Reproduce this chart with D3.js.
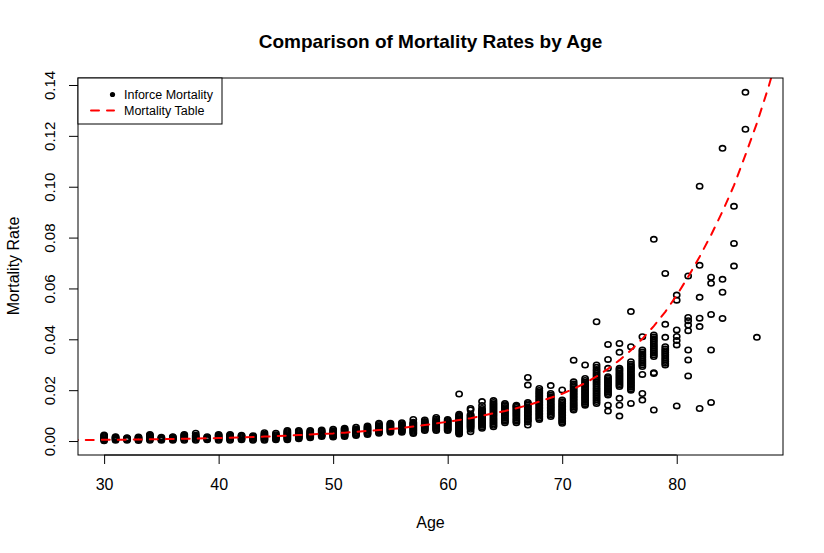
<!DOCTYPE html>
<html>
<head>
<meta charset="utf-8">
<script src="https://cdn.jsdelivr.net/npm/d3@7"></script>
<style>
  html, body { margin: 0; padding: 0; background: #fff; }
  svg { display: block; font-family: "Liberation Sans", Arial, sans-serif; }
</style>
</head>
<body>
<svg id="chart" width="824" height="553"></svg>
<script>
// ---------- data ----------
const chartTitle = "Comparison of Mortality Rates by Age";
const xLabel = "Age";
const yLabel = "Mortality Rate";
const legendLabels = ["Inforce Mortality", "Mortality Table"];

const xTicks = [30, 40, 50, 60, 70, 80];
const yTicks = [0.00, 0.02, 0.04, 0.06, 0.08, 0.10, 0.12, 0.14];

// inforce (observed) mortality: one list of rates per age
const inforceAges = [30,31,32,33,34,35,36,37,38,39,40,41,42,43,44,45,46,47,48,49,50,51,52,53,54,55,56,57,58,59,60,61,62,63,64,65,66,67,68,69,70,71,72,73,74,75,76,77,78,79,80,81,82,83,84,85,86,87];
const inforceRates = [
  [0.0001,0.0005,0.0009,0.0013,0.0017,0.0021,0.0024],
  [0.0003,0.0006,0.0009,0.0012,0.0015,0.0017],
  [0.0003,0.0006,0.0009,0.0011,0.0013],
  [0.0002,0.0005,0.0008,0.0011,0.0014,0.0016],
  [0.0003,0.0007,0.0011,0.0015,0.0019,0.0023,0.0026],
  [0.0003,0.0006,0.0009,0.0012,0.0015],
  [0.0003,0.0006,0.0009,0.0012,0.0015,0.0017],
  [0.0003,0.0007,0.0011,0.0015,0.0019,0.0023,0.0026],
  [0.0003,0.0007,0.0011,0.0015,0.0019,0.0023,0.0031],
  [0.0005,0.0008,0.0011,0.0014,0.0017],
  [0.0003,0.0007,0.0011,0.0015,0.0019,0.0023,0.0026],
  [0.0003,0.0007,0.0011,0.0015,0.0019,0.0023,0.0026],
  [0.0005,0.0009,0.0013,0.0017,0.0020,0.0023],
  [0.0003,0.0007,0.0011,0.0015,0.0018,0.0021],
  [0.0003,0.0007,0.0011,0.0015,0.0019,0.0023,0.0027,0.0033],
  [0.0005,0.0009,0.0013,0.0017,0.0021,0.0025,0.0031],
  [0.0005,0.0009,0.0013,0.0017,0.0021,0.0025,0.0029,0.0033,0.0037,0.0041],
  [0.0009,0.0013,0.0017,0.0021,0.0025,0.0029,0.0033,0.0037,0.0041],
  [0.0013,0.0017,0.0021,0.0025,0.0029,0.0033,0.0037,0.0041],
  [0.0018,0.0022,0.0026,0.0030,0.0034,0.0038,0.0043],
  [0.0016,0.0020,0.0024,0.0028,0.0032,0.0036,0.0040,0.0046],
  [0.0018,0.0022,0.0026,0.0030,0.0034,0.0038,0.0042,0.0046,0.0050],
  [0.0022,0.0026,0.0030,0.0034,0.0038,0.0042,0.0046,0.0054],
  [0.0026,0.0030,0.0034,0.0038,0.0042,0.0046,0.0050,0.0054,0.0059],
  [0.0031,0.0035,0.0039,0.0043,0.0047,0.0051,0.0055,0.0060,0.0065,0.0070],
  [0.0035,0.0039,0.0043,0.0047,0.0051,0.0055,0.0059,0.0063,0.0067,0.0070],
  [0.0035,0.0039,0.0043,0.0047,0.0051,0.0055,0.0059,0.0063,0.0068,0.0072],
  [0.0030,0.0034,0.0038,0.0042,0.0046,0.0050,0.0054,0.0058,0.0062,0.0066,0.0070,0.0074,0.0085],
  [0.0041,0.0045,0.0049,0.0053,0.0057,0.0061,0.0065,0.0069,0.0073,0.0077,0.0083],
  [0.0041,0.0045,0.0049,0.0053,0.0057,0.0061,0.0065,0.0069,0.0073,0.0077,0.0081,0.0086,0.0093],
  [0.0041,0.0045,0.0049,0.0053,0.0057,0.0061,0.0065,0.0069,0.0073,0.0077,0.0081,0.0085],
  [0.0028,0.0032,0.0036,0.0040,0.0044,0.0048,0.0052,0.0056,0.0060,0.0064,0.0068,0.0072,0.0076,0.0080,0.0084,0.0088,0.0092,0.0096,0.0100,0.0105,0.0185],
  [0.0037,0.0046,0.0052,0.0056,0.0060,0.0064,0.0068,0.0072,0.0076,0.0080,0.0084,0.0088,0.0092,0.0096,0.0100,0.0104,0.0122,0.0128],
  [0.0050,0.0056,0.0062,0.0066,0.0070,0.0074,0.0078,0.0082,0.0086,0.0090,0.0094,0.0098,0.0102,0.0106,0.0110,0.0114,0.0118,0.0122,0.0128,0.0140,0.0155],
  [0.0056,0.0062,0.0068,0.0074,0.0080,0.0086,0.0092,0.0098,0.0104,0.0110,0.0116,0.0122,0.0128,0.0134,0.0140,0.0146,0.0152,0.0159],
  [0.0072,0.0078,0.0084,0.0090,0.0096,0.0102,0.0108,0.0114,0.0120,0.0126,0.0132,0.0138,0.0143,0.0148],
  [0.0072,0.0078,0.0084,0.0090,0.0096,0.0102,0.0108,0.0114,0.0120,0.0126,0.0132,0.0137,0.0141],
  [0.0063,0.0075,0.0081,0.0087,0.0093,0.0099,0.0105,0.0111,0.0117,0.0123,0.0129,0.0135,0.0141,0.0147,0.0152,0.0220,0.0250],
  [0.0085,0.0091,0.0097,0.0103,0.0109,0.0115,0.0121,0.0127,0.0133,0.0139,0.0145,0.0151,0.0157,0.0163,0.0169,0.0175,0.0181,0.0187,0.0193,0.0199,0.0207],
  [0.0096,0.0102,0.0108,0.0114,0.0120,0.0126,0.0132,0.0138,0.0144,0.0150,0.0156,0.0162,0.0168,0.0174,0.0180,0.0187,0.0218],
  [0.0070,0.0076,0.0082,0.0088,0.0094,0.0100,0.0106,0.0112,0.0118,0.0124,0.0130,0.0136,0.0142,0.0148,0.0154,0.0161,0.0201],
  [0.0122,0.0128,0.0134,0.0140,0.0146,0.0152,0.0158,0.0164,0.0170,0.0176,0.0182,0.0188,0.0194,0.0200,0.0206,0.0212,0.0218,0.0224,0.0233,0.0318],
  [0.0141,0.0147,0.0153,0.0159,0.0165,0.0171,0.0177,0.0183,0.0189,0.0195,0.0201,0.0207,0.0213,0.0219,0.0225,0.0231,0.0238,0.0246,0.0299],
  [0.0148,0.0155,0.0162,0.0169,0.0176,0.0183,0.0190,0.0197,0.0204,0.0211,0.0218,0.0225,0.0232,0.0239,0.0246,0.0253,0.0260,0.0267,0.0274,0.0281,0.0290,0.0299,0.0469],
  [0.0118,0.0141,0.0181,0.0187,0.0193,0.0199,0.0205,0.0211,0.0217,0.0223,0.0229,0.0235,0.0241,0.0247,0.0253,0.0286,0.0321,0.0380],
  [0.0098,0.0141,0.0168,0.0214,0.0220,0.0226,0.0232,0.0238,0.0244,0.0250,0.0256,0.0262,0.0268,0.0274,0.0280,0.0286,0.0349,0.0384],
  [0.0148,0.0200,0.0206,0.0212,0.0218,0.0224,0.0230,0.0236,0.0242,0.0248,0.0254,0.0260,0.0266,0.0272,0.0278,0.0284,0.0290,0.0296,0.0302,0.0312,0.0371,0.0509],
  [0.0161,0.0187,0.0262,0.0293,0.0300,0.0307,0.0314,0.0321,0.0328,0.0335,0.0342,0.0350,0.0358,0.0410],
  [0.0122,0.0266,0.0269,0.0332,0.0339,0.0346,0.0353,0.0360,0.0367,0.0374,0.0381,0.0388,0.0395,0.0402,0.0409,0.0417,0.0793],
  [0.0299,0.0306,0.0313,0.0320,0.0327,0.0334,0.0341,0.0348,0.0355,0.0362,0.0371,0.0408,0.0459,0.0659],
  [0.0138,0.0378,0.0395,0.0411,0.0437,0.0554,0.0574],
  [0.0256,0.0319,0.0358,0.0434,0.0456,0.0473,0.0486,0.0649],
  [0.0128,0.0450,0.0483,0.0565,0.0691,0.1002],
  [0.0152,0.0358,0.0498,0.0620,0.0644],
  [0.0482,0.0585,0.0636,0.1151],
  [0.0688,0.0777,0.0923],
  [0.1226,0.1371],
  [0.0408]
];

// standard mortality table
const tableAges  = [27,28,29,30,31,32,33,34,35,36,37,38,39,40,41,42,43,44,45,46,47,48,49,50,51,52,53,54,55,56,57,58,59,60,61,62,63,64,65,66,67,68,69,70,71,72,73,74,75,76,77,78,79,80,81,82,83,84,85,86,87,88,89];
const tableRates = [0.00037,0.00040,0.00043,0.00047,0.00051,0.00056,0.00061,0.00067,0.00073,0.00080,0.00088,0.00097,0.00107,0.00118,0.00130,0.00143,0.00158,0.00174,0.00192,0.00212,0.00234,0.00258,0.00284,0.00300,0.00330,0.00360,0.00400,0.00430,0.00470,0.00510,0.00570,0.00630,0.00690,0.00760,0.00830,0.00900,0.00990,0.01090,0.01180,0.01290,0.01410,0.01550,0.01700,0.01860,0.02050,0.02280,0.02540,0.02840,0.03180,0.03570,0.04020,0.04520,0.05080,0.05730,0.06460,0.07250,0.08100,0.09030,0.10050,0.11250,0.12500,0.13900,0.15450];

// ---------- layout ----------
const svg = d3.select("#chart");
const plot = { left: 78, right: 783, top: 78, bottom: 455 };
const FONT = "Liberation Sans, Arial, sans-serif";

const x = d3.scaleLinear().domain([27.72, 89.28]).range([plot.left, plot.right]);
const y = d3.scaleLinear().domain([-0.00549, 0.14275]).range([plot.bottom, plot.top]);

svg.append("defs").append("clipPath").attr("id", "clip")
  .append("rect")
  .attr("x", plot.left).attr("y", plot.top)
  .attr("width", plot.right - plot.left).attr("height", plot.bottom - plot.top);

// points
const points = [];
inforceAges.forEach((a, i) => inforceRates[i].forEach(r => points.push({ age: a, rate: r })));

svg.append("g")
  .selectAll("ellipse")
  .data(points)
  .join("ellipse")
  .attr("cx", d => x(d.age))
  .attr("cy", d => y(d.rate))
  .attr("rx", 3.1)
  .attr("ry", 2.7)
  .attr("fill", "none")
  .attr("stroke", "#000")
  .attr("stroke-width", 1.6);

// table line
const line = d3.line().x((d, i) => x(tableAges[i])).y(d => y(d));
svg.append("path")
  .datum(tableRates)
  .attr("clip-path", "url(#clip)")
  .attr("d", line)
  .attr("fill", "none")
  .attr("stroke", "#ff0000")
  .attr("stroke-width", 2)
  .attr("stroke-dasharray", "8,8")
  .attr("stroke-linecap", "round");

// axes
const xAxis = d3.axisBottom(x).tickValues(xTicks).tickSize(9).tickFormat(d3.format("d"));
const gx = svg.append("g").attr("transform", `translate(0,${plot.bottom})`).call(xAxis);
gx.select(".domain").remove();
gx.append("line").attr("x1", x(xTicks[0])).attr("x2", x(xTicks[xTicks.length - 1]))
  .attr("stroke", "#000");
gx.selectAll(".tick text")
  .attr("font-size", 16).attr("font-family", FONT).attr("fill", "#000")
  .attr("y", 35).attr("dy", null);

const yAxis = d3.axisLeft(y).tickValues(yTicks).tickSize(9).tickFormat(d3.format(".2f"));
const gy = svg.append("g").attr("transform", `translate(${plot.left},0)`).call(yAxis);
gy.select(".domain").remove();
gy.selectAll(".tick text")
  .attr("font-size", 15).attr("font-family", FONT).attr("fill", "#000")
  .attr("x", null).attr("dy", null)
  .attr("text-anchor", "middle")
  .attr("transform", "translate(-23,0) rotate(-90)");

// box
svg.append("rect")
  .attr("x", plot.left).attr("y", plot.top)
  .attr("width", plot.right - plot.left).attr("height", plot.bottom - plot.top)
  .attr("fill", "none").attr("stroke", "#000").attr("stroke-width", 1);

// title & labels
svg.append("text").attr("x", 430.5).attr("y", 48).attr("text-anchor", "middle")
  .attr("font-size", 19).attr("font-weight", "bold").text(chartTitle);
svg.append("text").attr("x", 430.5).attr("y", 528).attr("text-anchor", "middle")
  .attr("font-size", 16).text(xLabel);
svg.append("text").attr("transform", "translate(19,266) rotate(-90)").attr("text-anchor", "middle")
  .attr("font-size", 16).text(yLabel);

// legend
const lg = svg.append("g");
lg.append("rect").attr("x", plot.left).attr("y", plot.top).attr("width", 144).attr("height", 46)
  .attr("fill", "#fff").attr("stroke", "#000").attr("stroke-width", 1);
lg.append("circle").attr("cx", 112.5).attr("cy", 94.5).attr("r", 2.6).attr("fill", "#000");
lg.append("line").attr("x1", 91).attr("x2", 114).attr("y1", 110.5).attr("y2", 110.5)
  .attr("stroke", "#ff0000").attr("stroke-width", 2).attr("stroke-dasharray", "8,8").attr("stroke-linecap", "round");
lg.append("text").attr("x", 124).attr("y", 99).attr("font-size", 12.5).text(legendLabels[0]);
lg.append("text").attr("x", 124).attr("y", 115).attr("font-size", 12.5).text(legendLabels[1]);
</script>
</body>
</html>
